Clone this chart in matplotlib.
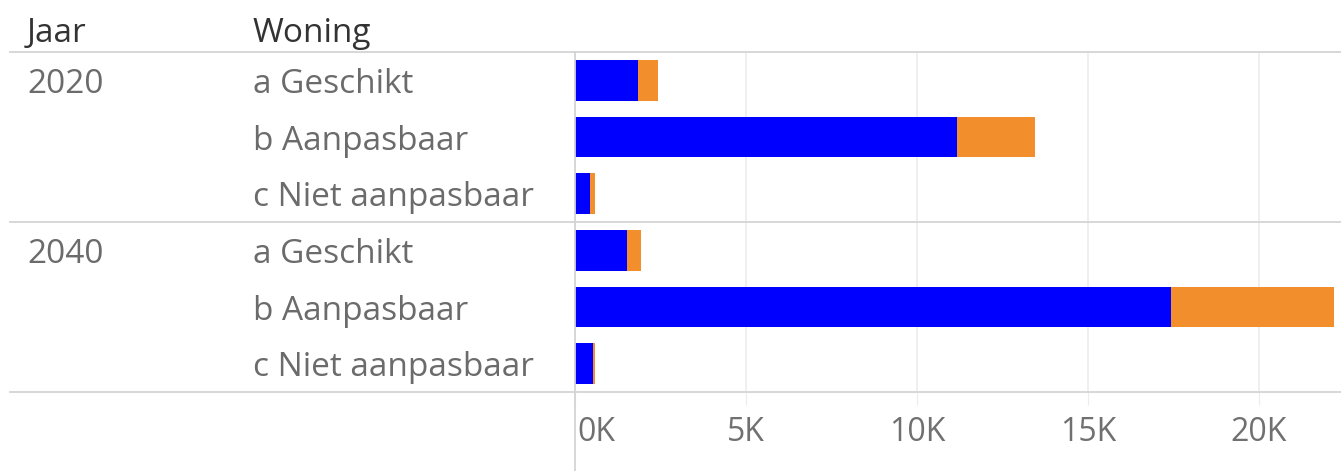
import matplotlib.pyplot as plt
import matplotlib.transforms as mtransforms
from matplotlib.lines import Line2D

# data (aantallen woningen, in duizenden)
jaren = ["2020", "2040"]
woningen = ["a Geschikt", "b Aanpasbaar", "c Niet aanpasbaar"]
blauw = [1.84, 11.17, 0.44, 1.52, 17.43, 0.53]
oranje = [0.59, 2.28, 0.14, 0.41, 4.76, 0.05]
ticks = [0, 5, 10, 15, 20]
tick_labels = ["0K", "5K", "10K", "15K", "20K"]

plt.rcParams['font.family'] = ['Open Sans', 'DejaVu Sans']

W, H = 1341, 471
fig = plt.figure(figsize=(W / 100, H / 100), dpi=100)
ax = fig.add_axes([575 / W, (H - 392) / H, (W - 575) / W, (392 - 52) / H])

y = list(range(len(blauw)))
ax.barh(y, blauw, height=0.72, color="#0000ff")
ax.barh(y, oranje, left=blauw, height=0.72, color="#f28e2b")
ax.set_ylim(5.5, -0.5)
ax.set_xlim(0, 22.4)

ax.set_xticks(ticks)
ax.set_xticklabels(tick_labels)
ax.tick_params(axis='x', length=9.5, color="#ececec", labelsize=23, labelcolor="#707070", pad=8)
ax.tick_params(axis='y', left=False, labelleft=False)
first = ax.get_xticklabels()[0]
first.set_ha("left")
first.set_transform(first.get_transform() + mtransforms.ScaledTranslation(2 / 100, 0, fig.dpi_scale_trans))
ax.grid(axis='x', color="#ececec", linewidth=1.2)
ax.set_axisbelow(True)
for s in ax.spines.values():
    s.set_visible(False)

# header
fig.text(27 / W, 1 - 33 / H, "Jaar", fontsize=24, color="#333333", va="center")
fig.text(253 / W, 1 - 33 / H, "Woning", fontsize=24, color="#333333", va="center")

down = mtransforms.ScaledTranslation(0, -4 / 100, fig.dpi_scale_trans)
tr = mtransforms.blended_transform_factory(fig.transFigure, ax.transData) + down
for i, j in enumerate(jaren):
    ax.text(27 / W, i * 3, j, transform=tr, fontsize=24, color="#6b6b6b", va="center")
    for k, w in enumerate(woningen):
        ax.text(253 / W, i * 3 + k, w, transform=tr, fontsize=24, color="#6b6b6b", va="center")

# lijnen
line_col = "#d4d4d4"
for yp in [52, 222, 392]:
    fig.add_artist(Line2D([10 / W, 1], [1 - yp / H, 1 - yp / H], color=line_col, linewidth=1.3,
                          transform=fig.transFigure))
fig.add_artist(Line2D([575 / W, 575 / W], [0, 1 - 52 / H], color=line_col, linewidth=1.3,
                      transform=fig.transFigure))

fig.savefig("out.png", dpi=100)
